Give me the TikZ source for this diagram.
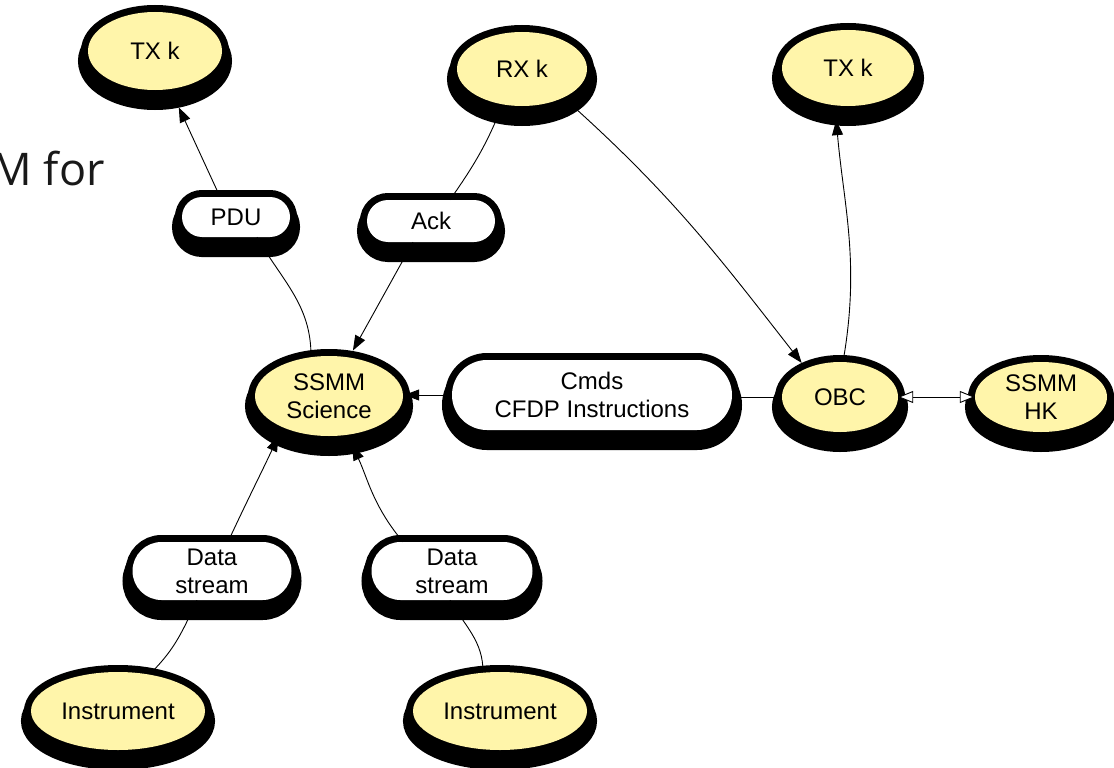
\documentclass[tikz,border=0pt]{standalone}
\usepackage{fontspec}
\setmainfont{Liberation Sans}
\newfontfamily\slidefont{Open Sans}
\usetikzlibrary{shapes.geometric,shapes.misc,arrows.meta}
\definecolor{bubfill}{RGB}{255,245,170}
\definecolor{slidegray}{RGB}{25,25,25}
\newcommand{\nodefont}{\fontsize{24pt}{28pt}\selectfont}
\begin{document}
\begin{tikzpicture}[x=1pt,y=-1pt,
  shadowed/.style={
    preaction={draw=black, line width=14pt},
    preaction={draw=black, fill=black, line width=20pt, transform canvas={yshift=-10pt}}},
  bub/.style={ellipse, shadowed, fill=bubfill, inner sep=0pt, font=\nodefont, align=center},
  pill/.style={rounded rectangle, shadowed, fill=white, inner sep=0pt, font=\nodefont, align=center},
  conn/.style={line width=0.9pt, draw=black},
  arr/.style={conn, -{Triangle[length=15pt,width=11pt]}},
  oarr/.style={conn, {Triangle[open,length=15pt,width=12pt,fill=white]}-{Triangle[open,length=15pt,width=12pt,fill=white]}},
]
\useasboundingbox (0,0) rectangle (1114,768);

\node[anchor=base east, font=\slidefont\fontsize{45pt}{50pt}\selectfont, text=slidegray, inner sep=0pt] (slide) at (105,185) {M for};

\node[bub, minimum width=134pt, minimum height=78pt] (txl) at (155,51) {TX k};
\node[bub, minimum width=130pt, minimum height=74pt] (rx) at (522,69) {RX k};
\node[bub, minimum width=132pt, minimum height=76pt] (txr) at (848,68) {TX k};
\node[bub, minimum width=148pt, minimum height=80pt] (sci) at (329,396) {SSMM\\Science};
\node[bub, minimum width=116pt, minimum height=70pt] (obc) at (840,397) {OBC};
\node[bub, minimum width=132pt, minimum height=70pt] (hk) at (1041,397) {SSMM\\HK};
\node[bub, minimum width=174pt, minimum height=78pt] (insl) at (118,711) {Instrument};
\node[bub, minimum width=174pt, minimum height=78pt] (insr) at (500,711) {Instrument};
\node[pill, minimum width=108pt, minimum height=40pt] (pdu) at (236,217) {PDU};
\node[pill, minimum width=128pt, minimum height=42pt] (ack) at (431,221) {Ack};
\node[pill, minimum width=280pt, minimum height=70pt] (cmds) at (592,395) {Cmds\\CFDP Instructions};
\node[pill, minimum width=159pt, minimum height=58pt] (dsl) at (212,571) {Data\\stream};
\node[pill, minimum width=161pt, minimum height=58pt] (dsr) at (452,571) {Data\\stream};

\draw[arr, shorten >=20pt] ([xshift=-16pt]pdu.north) -- (txl.-68);
\draw[conn] ([xshift=-18pt]sci.north) to[out=90,in=-60] ([xshift=21pt]pdu.south);
\draw[conn] ([xshift=-20pt]rx.south) to[out=-112,in=55] ([xshift=19pt]ack.north);
\draw[arr, shorten >=6pt] ([xshift=-18pt]ack.south) -- ([xshift=21pt]sci.north);
\draw[arr, shorten >=7pt] ([xshift=51pt]rx.south) to[out=-42,in=128] (obc.140);
\draw[arr, shorten >=14pt] ([xshift=3pt]obc.north) to[out=80,in=-85] ([xshift=-13pt]txr.south);
\draw[conn] (obc.west) -- (obc.west -| cmds.east);
\draw[arr, shorten >=1pt] (cmds.west) -- (cmds.west -| sci.east);
\draw[oarr] (obc.east) -- (obc.east -| hk.west);
\draw[arr, shorten >=10pt] ([xshift=16pt]dsl.north) to[out=65,in=-115] (sci.-146);
\draw[arr, shorten >=10pt] ([xshift=-49pt]dsr.north) to[out=130,in=-65] ([xshift=19pt]sci.south);
\draw[conn] ([xshift=34pt]insl.north) to[out=45,in=-115] ([xshift=-15pt]dsl.south);
\draw[conn] ([xshift=-17pt]insr.north) to[out=90,in=-60] ([xshift=-2pt]dsr.south);
\end{tikzpicture}
\end{document}
